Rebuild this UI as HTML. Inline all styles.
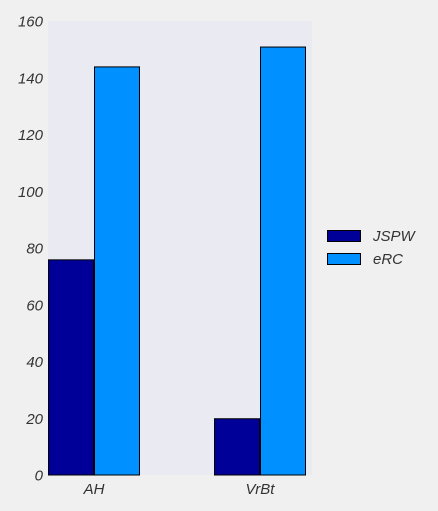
<!DOCTYPE html>
<html><head><meta charset="utf-8"><style>
html,body{margin:0;padding:0;background:#f0f0f0;}
svg{display:block;font-family:"Liberation Sans",sans-serif;font-style:italic;}
</style></head><body>
<svg id="chart" width="438" height="511">
<rect x="48" y="21" width="264" height="454" fill="#eaeaf2"/>
<g id="yticks"></g>
<g id="bars"></g>
<g id="xticks"></g>
<g>
<g>
<rect x="327.5" y="230.5" width="33" height="11" fill="#000099" stroke="#000"/>
<text x="373" y="241" font-size="15" fill="#333">JSPW</text></g>
<g>
<rect x="327.5" y="253.5" width="33" height="11" fill="#0090ff" stroke="#000"/>
<text x="373" y="264" font-size="15" fill="#333">eRC</text></g>
</g>
</svg>
<script>
const categories = ["AH", "VrBt"];
const seriesNames = ["JSPW", "eRC"];
const jspwValues = [76, 20];
const ercValues = [144, 151];
const yTicks = [0, 20, 40, 60, 80, 100, 120, 140, 160];

const NS = "http://www.w3.org/2000/svg";
const y0 = 475, y1 = 21, yMax = 160;
function yScale(v){ return y0 - (v / yMax) * (y0 - y1); }
const catCenters0 = 94, catStep = 166, barW = 46;
function xCenter(i){ return catCenters0 + i * catStep; }
function mk(tag, attrs, parent){
  const el = document.createElementNS(NS, tag);
  for (const k in attrs) el.setAttribute(k, attrs[k]);
  parent.appendChild(el); return el;
}
const yg = document.getElementById("yticks");
yTicks.forEach(t => {
  const tx = mk("text", {x: 43, y: yScale(t) + 5.5, "text-anchor": "end", "font-size": 15, fill: "#333"}, yg);
  
  
  tx.textContent = t;
});
const bg = document.getElementById("bars");
const colors = ["#000099", "#0090ff"];
const series = [jspwValues, ercValues];
series.forEach((vals, s) => {
  vals.forEach((v, i) => {
    const x = xCenter(i) + (s === 0 ? -barW : 0);
    const r = mk("rect", {x: x + 0.5, y: yScale(v) + 0.5, width: barW - 1, height: y0 - yScale(v) - 0.5, fill: colors[s], stroke: "#000", "stroke-width": 1}, bg);
    
    
  });
});
const xg = document.getElementById("xticks");
categories.forEach((c, i) => {
  const tx = mk("text", {x: xCenter(i), y: 494, "text-anchor": "middle", "font-size": 15, fill: "#333"}, xg);
  
  
  tx.textContent = c;
});
</script>
</body></html>
